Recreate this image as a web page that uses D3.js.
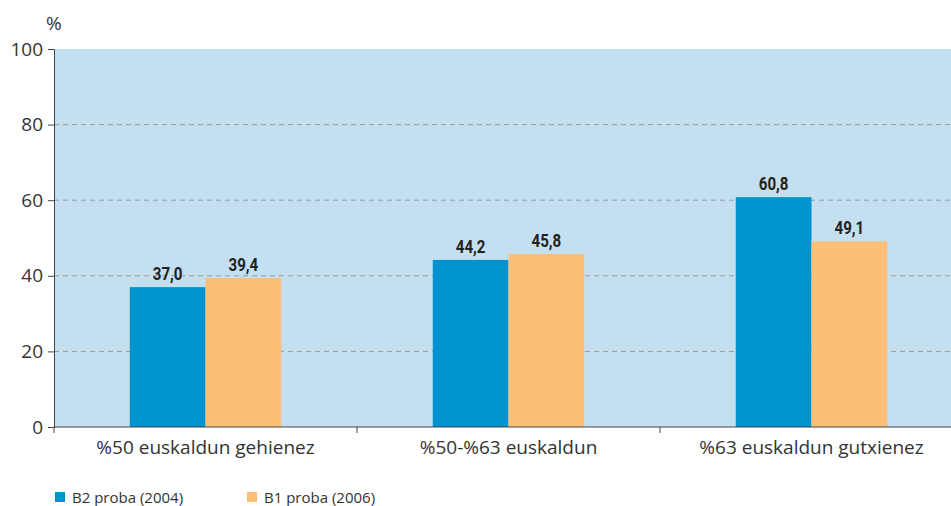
<!DOCTYPE html>
<html><head><meta charset="utf-8">
<script src="https://cdn.jsdelivr.net/npm/d3@7"></script>
<style>body{margin:0;background:#fff}</style>
</head><body>
<svg id="c" width="951" height="506"></svg>
<script>
const categories = ["%50 euskaldun gehienez", "%50-%63 euskaldun", "%63 euskaldun gutxienez"];
const seriesNames = ["B2 proba (2004)", "B1 proba (2006)"];
const b2Values = [37.0, 44.2, 60.8];
const b1Values = [39.4, 45.8, 49.1];
const yTicks = [0, 20, 40, 60, 80, 100];
const colors = ["#0093cf", "#fdbe76"];

(function () {
const svg = d3.select("#c");
const mLeft = 54, mTop = 49, mBottom = 427, mRight = 963;
const x = d3.scaleBand().domain(categories).range([mLeft, mRight]);
const inner = d3.scaleBand().domain(seriesNames).range([0, x.bandwidth()]).paddingInner(0).paddingOuter(1);
const y = d3.scaleLinear().domain([0, 100]).range([mBottom, mTop]);

svg.append("rect").attr("x", mLeft).attr("y", mTop).attr("width", 951 - mLeft).attr("height", mBottom - mTop).attr("fill", "#c3dff0");

svg.append("g").selectAll("line").data(yTicks.filter(d => d > 0 && d < 100)).join("line")
  .attr("x1", mLeft).attr("x2", 951).attr("y1", d => y(d)).attr("y2", d => y(d))
  .attr("stroke", "#9a9a9a").attr("stroke-dasharray", "5,4").attr("stroke-width", 1);

const data = categories.map((c, i) => ({cat: c, vals: [b2Values[i], b1Values[i]]}));
const g = svg.append("g");
data.forEach(d => {
  d.vals.forEach((v, j) => {
    const bx = x(d.cat) + inner(seriesNames[j]);
    g.append("rect").attr("x", bx).attr("y", y(v)).attr("width", inner.bandwidth()).attr("height", y(0) - y(v)).attr("fill", colors[j]);
    g.append("text").attr("transform", `translate(${bx + inner.bandwidth() / 2},${y(v) - 7}) scale(0.84,1)`)
      .attr("text-anchor", "middle").attr("font-family", "Roboto, sans-serif").attr("font-weight", "bold")
      .attr("font-size", 18).attr("fill", "#222").text(v.toFixed(1).replace(".", ","));
  });
});

const yAxis = d3.axisLeft(y).tickValues(yTicks).tickSize(6).tickPadding(5);
const ya = svg.append("g").attr("transform", `translate(${mLeft},0)`).call(yAxis);
ya.select(".domain").attr("stroke", "#444");
ya.selectAll(".tick line").attr("stroke", "#444");
ya.selectAll("text").attr("font-family", "Open Sans, sans-serif").attr("font-size", 19).attr("fill", "#333");

const xAxis = d3.axisBottom(x).tickSize(0).tickPadding(14);
const xa = svg.append("g").attr("transform", `translate(0,${mBottom})`).call(xAxis);
xa.select(".domain").remove();
xa.append("line").attr("x1", mLeft).attr("x2", 951).attr("stroke", "#444");
xa.selectAll(".tick text").attr("font-family", "Open Sans, sans-serif").attr("font-size", 19).attr("fill", "#333");
const bounds = categories.map(c => x(c));
xa.selectAll(".bt").data(bounds).join("line").attr("class", "bt")
  .attr("x1", d => d).attr("x2", d => d).attr("y1", 0).attr("y2", 6).attr("stroke", "#444");

svg.append("text").attr("x", 46).attr("y", 30).attr("font-family", "Open Sans, sans-serif").attr("font-size", 19).attr("fill", "#333").text("%");

const lg = svg.append("g");
const lx = [55, 247];
seriesNames.forEach((s, i) => {
  lg.append("rect").attr("x", lx[i]).attr("y", 492).attr("width", 10).attr("height", 10).attr("fill", colors[i]);
  lg.append("text").attr("x", lx[i] + 17).attr("y", 503).attr("font-family", "Open Sans, sans-serif").attr("font-size", 15).attr("fill", "#333").text(s);
});
})();
</script>
</body></html>
